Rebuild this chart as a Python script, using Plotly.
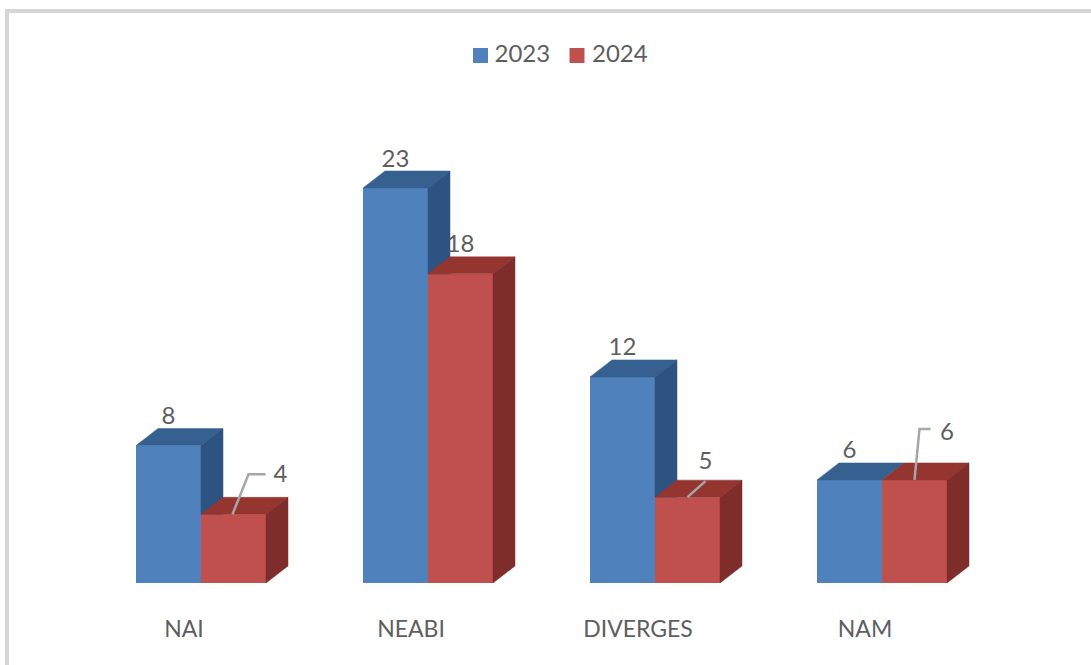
import plotly.graph_objects as go

# ---- data ----
categories = ["NAI", "NEABI", "DIVERGES", "NAM"]
series_names = ["2023", "2024"]
values_2023 = [8, 23, 12, 6]
values_2024 = [4, 18, 5, 6]

# ---- pixel calibration of the axes ----
W, H = 1091, 665
PX_ORIGIN_X = 201.0     # pixel of group 0 centre
PX_PER_CAT = 227.0
PX_BASE_Y = 583.0
PX_PER_UNIT = 395.0 / 23.0

BAR_W = 65.0 / PX_PER_CAT
DEPTH_X = 22.0 / PX_PER_CAT
DEPTH_Y = 17.0 / PX_PER_UNIT


def ux(px):
    return px / PX_PER_CAT


def uy(px):
    return px / PX_PER_UNIT


FONT = "Lato, 'Open Sans', sans-serif"
TXT = "#5e5e5e"
LEAD = "#a6a6a6"
BLUE, BLUE_TOP, BLUE_SIDE = "#4f81bd", "#35608f", "#2d5382"
RED, RED_TOP, RED_SIDE = "#c0504d", "#94352f", "#7e2d2b"

fig = go.Figure()

fig.add_bar(x=list(range(len(categories))), y=values_2023, name=series_names[0],
            marker=dict(color=BLUE, line_width=0), width=BAR_W, offset=-BAR_W, showlegend=False)
fig.add_bar(x=list(range(len(categories))), y=values_2024, name=series_names[1],
            marker=dict(color=RED, line_width=0), width=BAR_W, offset=0, showlegend=False)


def poly(xs, ys, color):
    fig.add_scatter(x=xs + xs[:1], y=ys + ys[:1], mode="lines", fill="toself",
                    fillcolor=color, line=dict(color=color, width=0.5),
                    hoverinfo="skip", showlegend=False)


for i, (a, b) in enumerate(zip(values_2023, values_2024)):
    l, m, r = i - BAR_W, i, i + BAR_W
    # blue top and the visible part of the blue side
    poly([l, m, m + DEPTH_X, l + DEPTH_X], [a, a, a + DEPTH_Y, a + DEPTH_Y], BLUE_TOP)
    if a > b:
        poly([m, m, m + DEPTH_X, m + DEPTH_X], [b, a, a + DEPTH_Y, b], BLUE_SIDE)
    # red top and side
    poly([m, r, r + DEPTH_X, m + DEPTH_X], [b, b, b + DEPTH_Y, b + DEPTH_Y], RED_TOP)
    poly([r, r, r + DEPTH_X, r + DEPTH_X], [0, b, b + DEPTH_Y, DEPTH_Y], RED_SIDE)

# data labels, blue series
fig.add_scatter(x=[i - BAR_W / 2 for i in range(4)], y=[v + uy(27.5) for v in values_2023],
                mode="text", text=[str(v) for v in values_2023],
                textfont=dict(family=FONT, size=24, color=TXT),
                textposition="middle center", hoverinfo="skip", showlegend=False)

# data labels, red series: (dx of label from bar centre, dy above top) in pixels
red_label_offset = [(47, 38), (0, 28), (18, 34), (32.5, 46)]
# leader routes: anchor on the top edge, elbow and end in pixels relative to bar centre/top
red_leaders = [
    [(-1, 0), (15, 40), (32, 40)],
    None,
    [(0, 0), (18, 16)],
    [(0, 0), (5, 51), (16, 51)],
]
for i, v in enumerate(values_2024):
    cx = i + BAR_W / 2
    path = red_leaders[i]
    if path:
        fig.add_scatter(x=[cx + ux(p[0]) for p in path], y=[v + uy(p[1]) for p in path],
                        mode="lines", line=dict(color=LEAD, width=2.5),
                        hoverinfo="skip", showlegend=False)
    dx, dy = red_label_offset[i]
    fig.add_scatter(x=[cx + ux(dx)], y=[v + uy(dy)], mode="text", text=[str(v)],
                    textfont=dict(family=FONT, size=24, color=TXT),
                    textposition="middle center", hoverinfo="skip", showlegend=False)

# legend key: squares and their labels
for name, colour, px, tx in zip(series_names, [BLUE, RED], [480.5, 577.0], [494.5, 592.0]):
    fig.add_scatter(x=[(px - PX_ORIGIN_X) / PX_PER_CAT], y=[uy(PX_BASE_Y - 55.5)],
                    mode="markers", name=name,
                    marker=dict(symbol="square", size=15, color=colour),
                    hoverinfo="skip", showlegend=False)
    fig.add_scatter(x=[(tx - PX_ORIGIN_X) / PX_PER_CAT], y=[uy(PX_BASE_Y - 55.5)],
                    mode="text", text=[name], textposition="middle right",
                    textfont=dict(family=FONT, size=24, color=TXT),
                    hoverinfo="skip", showlegend=False)

# window frame at the top and left
fig.add_shape(type="rect", xref="paper", yref="paper", layer="below",
              x0=7 / W, x1=1.2,
              y0=-0.3, y1=(PX_BASE_Y - 11) / PX_BASE_Y,
              line=dict(color="#d6d6d6", width=4), fillcolor="white")

fig.update_layout(
    width=W, height=H,
    margin=dict(l=0, r=0, t=0, b=H - PX_BASE_Y, pad=0, autoexpand=False),
    paper_bgcolor="white", plot_bgcolor="rgba(0,0,0,0)",
    barmode="overlay",
    showlegend=False,
    xaxis=dict(range=[-PX_ORIGIN_X / PX_PER_CAT, (W - PX_ORIGIN_X) / PX_PER_CAT],
               tickmode="array",
               tickvals=[i - ux(17) for i in range(4)], ticktext=categories,
               tickfont=dict(family=FONT, size=23, color=TXT),
               showgrid=False, zeroline=False, showline=False, ticks="",
               ticklabelstandoff=30, automargin=False, fixedrange=True),
    yaxis=dict(range=[0, PX_BASE_Y / PX_PER_UNIT], visible=False, fixedrange=True),
)

fig.write_html("out.html", post_script="document.body.style.margin='0';",
               config={"displayModeBar": False})
